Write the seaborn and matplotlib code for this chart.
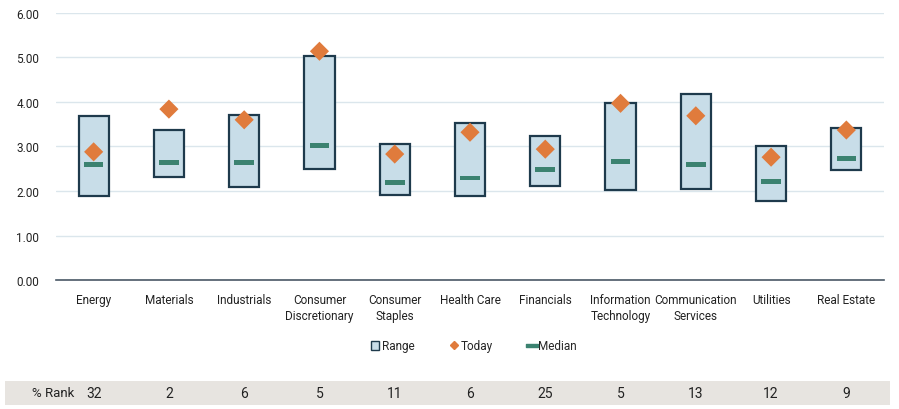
import numpy as np
import pandas as pd
import matplotlib
matplotlib.use('Agg')
import matplotlib.pyplot as plt
from matplotlib.path import Path
from matplotlib.patches import Rectangle, Patch
from matplotlib.lines import Line2D
from matplotlib.transforms import blended_transform_factory
import seaborn as sns

# Data
SECTORS = ['Energy', 'Materials', 'Industrials', 'Consumer\nDiscretionary', 'Consumer\nStaples',
           'Health Care', 'Financials', 'Information\nTechnology', 'Communication\nServices',
           'Utilities', 'Real Estate']
RANGE_LOW = [1.89, 2.31, 2.10, 2.50, 1.91, 1.89, 2.12, 2.02, 2.04, 1.78, 2.47]
RANGE_HIGH = [3.69, 3.36, 3.71, 5.04, 3.05, 3.53, 3.23, 3.97, 4.17, 3.00, 3.42]
TODAY = [2.88, 3.84, 3.60, 5.14, 2.83, 3.32, 2.94, 3.97, 3.69, 2.76, 3.37]
MEDIAN = [2.60, 2.64, 2.64, 3.03, 2.19, 2.29, 2.48, 2.67, 2.59, 2.22, 2.73]
PCT_RANK = [32, 2, 6, 5, 11, 6, 25, 5, 13, 12, 9]

# Colours
BOX_FILL = '#c8dde8'
BOX_EDGE = '#1e3a4c'
TODAY_COL = '#e07b3c'
MEDIAN_COL = '#3b8270'
GRID_COL = '#dbe6ec'
TEXT_COL = '#222222'

sns.set_theme(style='white')
plt.rcParams['font.family'] = ['Roboto', 'DejaVu Sans']

df = pd.DataFrame({'sector': SECTORS, 'low': RANGE_LOW, 'high': RANGE_HIGH,
                   'today': TODAY, 'median': MEDIAN})
df['x'] = np.arange(len(df))

fig = plt.figure(figsize=(8.99, 4.10), dpi=100)
ax = fig.add_axes([0.0623, 0.3146, 0.921, 0.6513])

# Range boxes (floating bars)
ax.bar(df['x'], df['high'] - df['low'], bottom=df['low'], width=0.4,
       color=BOX_FILL, edgecolor=BOX_EDGE, linewidth=1.6, zorder=2)

# Median as a flat dash
dash = Path([(-1, -0.24), (1, -0.24), (1, 0.24), (-1, 0.24), (-1, -0.24)],
            [Path.MOVETO, Path.LINETO, Path.LINETO, Path.LINETO, Path.CLOSEPOLY])
sns.scatterplot(data=df, x='x', y='median', marker=dash, s=200, color=MEDIAN_COL,
                edgecolor='none', ax=ax, zorder=3, legend=False)

# Today as diamonds
sns.scatterplot(data=df, x='x', y='today', marker='D', s=95, color=TODAY_COL,
                edgecolor='none', ax=ax, zorder=4, legend=False)

ax.set_xlim(-0.5, len(df) - 0.5)
ax.set_ylim(0, 6)
ax.set_yticks(np.arange(0, 7, 1))
ax.set_yticklabels([f'{v:.2f}' for v in np.arange(0, 7, 1)], fontsize=8.5, color=TEXT_COL)
ax.set_xticks(df['x'])
ax.set_xticklabels(SECTORS, fontsize=8.5, color=TEXT_COL, linespacing=1.35)
ax.tick_params(axis='both', length=0)
ax.tick_params(axis='x', pad=9)
ax.tick_params(axis='y', pad=12)
ax.set_xlabel('')
ax.set_ylabel('')
ax.grid(axis='y', color=GRID_COL, linewidth=1, zorder=0)
ax.set_axisbelow(True)
for side in ['left', 'right', 'top']:
    ax.spines[side].set_visible(False)
ax.spines['bottom'].set_color('#4a5866')
ax.spines['bottom'].set_linewidth(1.2)

# Legend
handles = [
    Patch(facecolor=BOX_FILL, edgecolor=BOX_EDGE, linewidth=1.0, label='Range'),
    Line2D([], [], marker='D', linestyle='none', color=TODAY_COL, markersize=4, label='Today'),
    Line2D([], [], marker=dash, linestyle='none', color=MEDIAN_COL, markersize=9, label='Median'),
]
fig.legend(handles=handles, loc='center', bbox_to_anchor=(474 / 899, 1 - 347 / 410), ncol=3,
           frameon=False, fontsize=8.5, handlelength=0.7, handleheight=0.7,
           handletextpad=0.2, columnspacing=3.0)

# % Rank row
fig.patches.append(Rectangle((5 / 899, 1 - 406 / 410), 885 / 899, 24 / 410,
                             transform=fig.transFigure, facecolor='#e7e4e0',
                             edgecolor='none', zorder=-1))
row_y = 1 - 394 / 410
fig.text(32 / 899, row_y, '% Rank', fontsize=9.5, color=TEXT_COL, ha='left', va='center')
trans = blended_transform_factory(ax.transData, fig.transFigure)
for xi, r in zip(df['x'], PCT_RANK):
    ax.text(xi, row_y, str(r), transform=trans, fontsize=10, color=TEXT_COL,
            ha='center', va='center', clip_on=False)

fig.savefig('out.png', dpi=100)
